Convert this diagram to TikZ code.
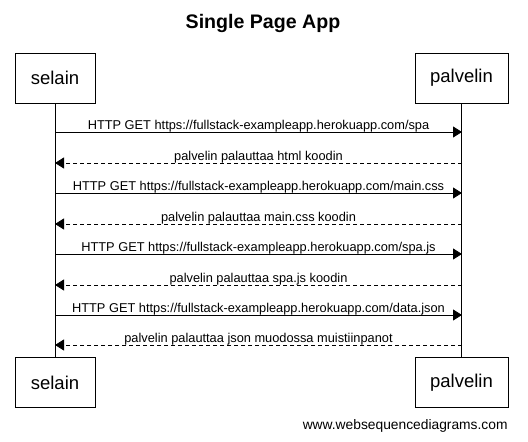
\documentclass[tikz,border=0pt]{standalone}
\usepackage{fontspec}
\setmainfont{Liberation Sans}
\usetikzlibrary{arrows.meta, positioning}

\begin{document}
\begin{tikzpicture}[x=1pt, y=-1pt, line width=0.9pt]
    % Styles
    \tikzstyle{actor} = [rectangle, draw=black, fill=white, minimum width=80pt, minimum height=50pt, font=\fontsize{18.5}{20}\selectfont, inner sep=0pt]
    \tikzstyle{msg} = [->, >={Triangle[length=9pt,width=11pt]}]
    \tikzstyle{reply} = [msg, dash pattern=on 4pt off 3pt]
    \tikzstyle{lbl} = [font=\fontsize{12.8}{14}\selectfont, anchor=base, yshift=3pt, inner sep=0pt]

    \useasboundingbox (0,0) rectangle (528,442);

    % Title
    \node (title) at (263,23) {\fontsize{19.6}{22}\selectfont\bfseries Single Page App};

    % Actors
    \node (selainTop) [actor] at (55,78) {selain};
    \node (palvelinTop) [actor, minimum width=93pt] at (461.5,78) {palvelin};
    \node (selainBot) [actor] at (55,382.5) {selain};
    \node (palvelinBot) [actor, minimum width=93pt] at (461.5,382.5) {palvelin};

    % Lifelines
    \draw (selainTop) -- (selainBot);
    \draw (palvelinTop) -- (palvelinBot);

    % Message points
    \coordinate (s1) at (55,132);  \coordinate (p1) at (462,132);
    \coordinate (s2) at (55,163);  \coordinate (p2) at (462,163);
    \coordinate (s3) at (55,193);  \coordinate (p3) at (462,193);
    \coordinate (s4) at (55,224);  \coordinate (p4) at (462,224);
    \coordinate (s5) at (55,254);  \coordinate (p5) at (462,254);
    \coordinate (s6) at (55,285);  \coordinate (p6) at (462,285);
    \coordinate (s7) at (55,315);  \coordinate (p7) at (462,315);
    \coordinate (s8) at (55,345);  \coordinate (p8) at (462,345);

    % Messages
    \draw [msg] (s1) -- node[lbl] {HTTP GET https://fullstack-exampleapp.herokuapp.com/spa} (p1);
    \draw [reply] (p2) -- node[lbl] {palvelin palauttaa html koodin} (s2);
    \draw [msg] (s3) -- node[lbl] {HTTP GET https://fullstack-exampleapp.herokuapp.com/main.css} (p3);
    \draw [reply] (p4) -- node[lbl] {palvelin palauttaa main.css koodin} (s4);
    \draw [msg] (s5) -- node[lbl] {HTTP GET https://fullstack-exampleapp.herokuapp.com/spa.js} (p5);
    \draw [reply] (p6) -- node[lbl] {palvelin palauttaa spa.js koodin} (s6);
    \draw [msg] (s7) -- node[lbl] {HTTP GET https://fullstack-exampleapp.herokuapp.com/data.json} (p7);
    \draw [reply] (p8) -- node[lbl] {palvelin palauttaa json muodossa muistiinpanot} (s8);

    % Watermark
    \node (credit) [anchor=east, font=\fontsize{13.8}{16}\selectfont, inner sep=0pt] at (508,426) {www.websequencediagrams.com};
\end{tikzpicture}
\end{document}
